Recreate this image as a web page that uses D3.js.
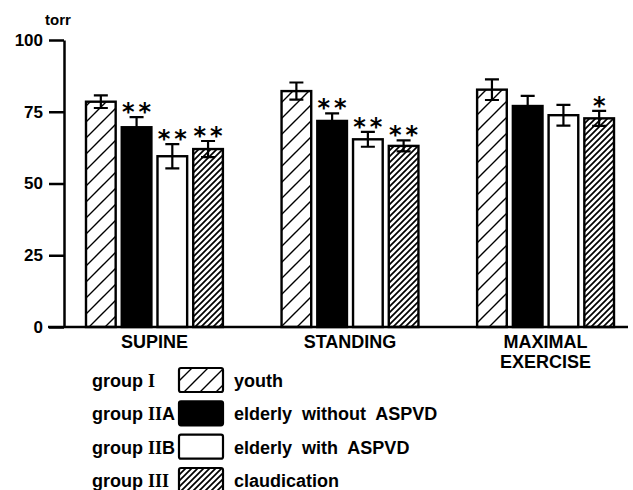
<!DOCTYPE html>
<html>
<head>
<meta charset="utf-8">
<script src="https://cdn.jsdelivr.net/npm/d3@7"></script>
<style>
  html, body { margin: 0; padding: 0; background: #fff; }
  svg { display: block; }
  text, tspan { font-family: "Liberation Sans", Arial, sans-serif; font-weight: bold; fill: #000; }
  tspan.roman { font-family: "Liberation Serif", "Times New Roman", serif; }
</style>
</head>
<body>
<svg id="chart" width="633" height="490"></svg>
<script>
// Posture / exercise conditions along the x axis
const conditions = ["SUPINE", "STANDING", "MAXIMAL EXERCISE"];
// Subject groups (one bar each per condition)
const groups = ["I", "IIA", "IIB", "III"];
const groupNames = ["youth", "elderly  without  ASPVD", "elderly  with  ASPVD", "claudication"];

// Mean values (torr) per condition, one array per group
const meanYouth   = [78.5, 82.2, 82.7];
const meanWithout = [69.6, 71.8, 77.0];
const meanWith    = [59.5, 65.4, 73.8];
const meanClaud   = [62.0, 63.1, 72.7];

// Standard errors (torr)
const seYouth   = [2.2, 3.0, 3.6];
const seWithout = [3.5, 2.6, 3.5];
const seWith    = [4.2, 2.6, 3.6];
const seClaud   = [2.8, 1.9, 2.6];

// Significance marks
const sigYouth   = ["", "", ""];
const sigWithout = ["**", "**", ""];
const sigWith    = ["**", "**", ""];
const sigClaud   = ["**", "**", "*"];

const yTicks = [0, 25, 50, 75, 100];

const means = [meanYouth, meanWithout, meanWith, meanClaud];
const ses = [seYouth, seWithout, seWith, seClaud];
const sigs = [sigYouth, sigWithout, sigWith, sigClaud];

const rows = [];
conditions.forEach((c, ci) => {
  groups.forEach((g, gi) => {
    rows.push({ cond: c, group: g, gi, value: means[gi][ci], se: ses[gi][ci], sig: sigs[gi][ci] });
  });
});

const svg = d3.select("#chart");

// Hatch patterns
const defs = svg.append("defs");
function hatch(id, step, width) {
  const p = defs.append("pattern")
    .attr("id", id)
    .attr("patternUnits", "userSpaceOnUse")
    .attr("width", step).attr("height", step);
  p.append("rect").attr("width", step).attr("height", step).attr("fill", "#fff");
  p.append("path")
    .attr("d", `M0,${step} L${step},0 M${-step/2},${step/2} L${step/2},${-step/2} M${step/2},${step*1.5} L${step*1.5},${step/2}`)
    .attr("stroke", "#000").attr("stroke-width", width).attr("fill", "none");
}
hatch("hatchWide", 16, 1.4);
hatch("hatchDense", 6, 1.7);
const fills = ["url(#hatchWide)", "#000", "#fff", "url(#hatchDense)"];

// Scales
const y = d3.scaleLinear().domain([0, 100]).range([327, 40]);
const x = d3.scaleBand().domain(conditions).range([64, 636]).paddingInner(0.3).paddingOuter(0.1125);
const xg = d3.scaleBand().domain(groups).range([0, x.bandwidth()]).paddingInner(0.17);

// Bars
const bars = svg.append("g");
bars.selectAll("rect")
  .data(rows)
  .join("rect")
  .attr("x", d => x(d.cond) + xg(d.group))
  .attr("y", d => y(d.value))
  .attr("width", xg.bandwidth())
  .attr("height", d => y(0) - y(d.value))
  .attr("fill", d => fills[d.gi])
  .attr("stroke", "#000")
  .attr("stroke-width", 2.4);

// Error bars
const capHalf = 7;
const eb = svg.append("g").attr("stroke", "#000").attr("stroke-width", 2.2).attr("fill", "none");
eb.selectAll("path")
  .data(rows)
  .join("path")
  .attr("d", d => {
    const cx = x(d.cond) + xg(d.group) + xg.bandwidth() / 2;
    const t = y(d.value + d.se), b = y(d.value - d.se);
    return `M${cx},${t} V${b} M${cx - capHalf},${t} H${cx + capHalf} M${cx - capHalf},${b} H${cx + capHalf}`;
  });

// Significance asterisks
svg.append("g").selectAll("text")
  .data(rows.filter(d => d.sig))
  .join("text")
  .attr("x", d => x(d.cond) + xg(d.group) + xg.bandwidth() / 2)
  .attr("dx", 2)
  .attr("y", d => y(d.value + d.se) + 3)
  .attr("text-anchor", "middle")
  .style("font-family", "'DejaVu Sans', sans-serif")
  .style("font-size", "24px")
  .style("letter-spacing", "4px")
  .text(d => d.sig);

// Y axis
const yAxis = svg.append("g")
  .attr("transform", "translate(64,0)")
  .call(d3.axisLeft(y).tickValues(yTicks).tickSize(15).tickSizeOuter(0).tickPadding(6));
yAxis.select(".domain").attr("stroke-width", 2.5);
yAxis.selectAll(".tick line").attr("stroke-width", 2.5);
yAxis.selectAll(".tick text").style("font-size", "17px").style("font-family", "'Liberation Sans', Arial, sans-serif");

svg.append("text")
  .attr("x", 45).attr("y", 25)
  .style("font-size", "15px")
  .text("torr");

// X axis baseline and category labels
svg.append("line")
  .attr("x1", 48).attr("x2", 628)
  .attr("y1", y(0)).attr("y2", y(0))
  .attr("stroke", "#000").attr("stroke-width", 2.5);

const xAxis = svg.append("g")
  .attr("transform", `translate(0,${y(0)})`)
  .call(d3.axisBottom(x).tickSize(0).tickPadding(8));
xAxis.select(".domain").remove();
xAxis.selectAll(".tick text")
  .style("font-size", "18px")
  .style("font-family", "'Liberation Sans', Arial, sans-serif")
  .each(function (d) {
    const words = d.split(" ");
    const t = d3.select(this);
    if (words.length > 1) {
      t.text(null);
      words.forEach((w, i) => {
        t.append("tspan").attr("x", 0).attr("dy", i === 0 ? "0.71em" : "1.12em").text(w);
      });
    }
  });

// Legend
const ly = d3.scalePoint().domain(groups).range([380, 480]);
const legend = svg.append("g");
groups.forEach((g, i) => {
  const cy = ly(g);
  const lab = legend.append("text")
    .attr("x", 92).attr("y", cy + 7)
    .style("font-size", "18px");
  lab.append("tspan").text("group ");
  const roman = g.replace(/[AB]/, "");
  const suffix = g.slice(roman.length);
  lab.append("tspan").attr("class", "roman").text(roman);
  if (suffix) lab.append("tspan").text(suffix);

  legend.append("rect")
    .attr("x", 179).attr("y", cy - 12)
    .attr("width", 44).attr("height", 24)
    .attr("rx", 2)
    .attr("fill", fills[i])
    .attr("stroke", "#000").attr("stroke-width", 2.2);

  legend.append("text")
    .attr("x", 234).attr("y", cy + 7)
    .style("font-size", "18px")
    .style("white-space", "pre")
    .text(groupNames[i]);
});
</script>
</body>
</html>
